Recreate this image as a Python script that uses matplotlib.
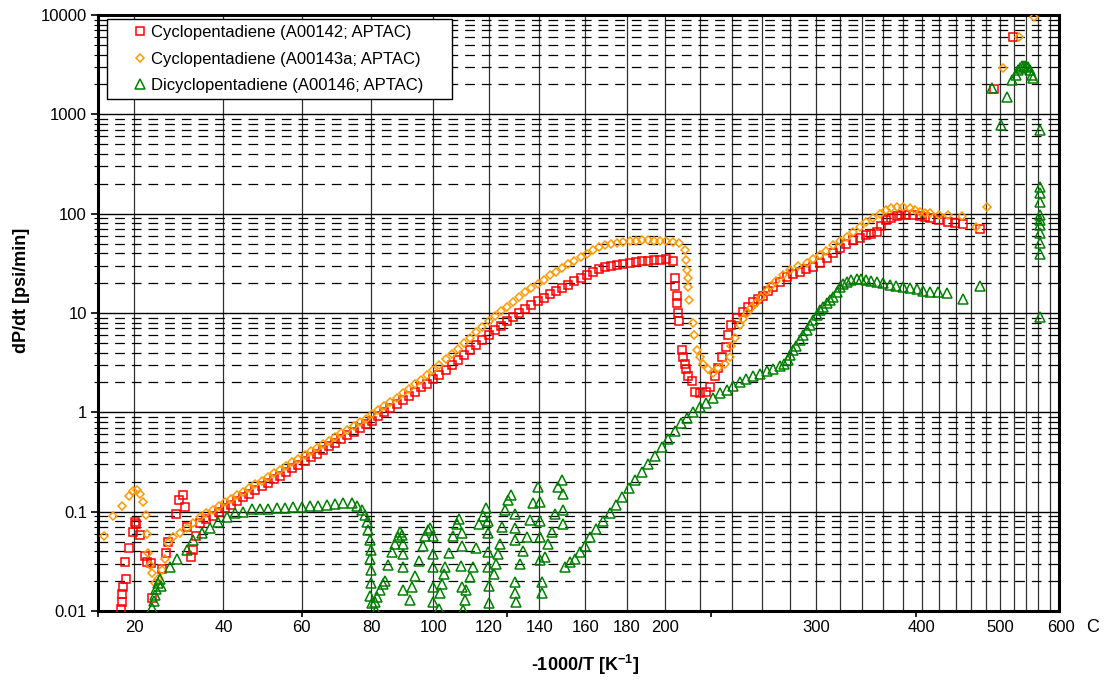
import matplotlib
matplotlib.use("Agg")
import matplotlib.pyplot as plt
from matplotlib.ticker import FixedLocator, LogLocator, NullFormatter, FuncFormatter

plt.rcParams['font.family'] = ['Liberation Sans', 'DejaVu Sans']
plt.rcParams['mathtext.fontset'] = 'custom'
plt.rcParams['mathtext.rm'] = 'Liberation Sans'
plt.rcParams['mathtext.bf'] = 'Liberation Sans:bold'
plt.rcParams['lines.scale_dashes'] = False

# x = -1000/T [1/K], y = dP/dt [psi/min]
labels = ["Cyclopentadiene (A00142; APTAC)",
          "Cyclopentadiene (A00143a; APTAC)",
          "Dicyclopentadiene (A00146; APTAC)"]

# shared x positions of the readings along the smooth part of both cyclopentadiene runs
curve_x = [-3.250, -3.235, -3.220, -3.205, -3.190, -3.175, -3.160, -3.145, -3.130, -3.115,
           -3.100, -3.085, -3.070, -3.055, -3.040, -3.025, -3.010, -2.995, -2.980, -2.965,
           -2.950, -2.935, -2.920, -2.905, -2.890, -2.875, -2.860, -2.845, -2.830, -2.815,
           -2.800, -2.785, -2.770, -2.755, -2.740, -2.725, -2.710, -2.695, -2.680, -2.665,
           -2.650, -2.635, -2.620, -2.605, -2.590, -2.575, -2.560, -2.545, -2.530, -2.515,
           -2.500, -2.485, -2.470, -2.455, -2.440, -2.425, -2.410, -2.395, -2.380, -2.365,
           -2.350, -2.335, -2.320, -2.305, -2.290, -2.275, -2.260, -2.245, -2.230, -2.215,
           -2.200, -2.185, -2.170, -2.155, -2.140, -2.125, -2.110, -2.095, -2.080]

# --- Cyclopentadiene A00142 (red)
red_early_x = [-3.4445, -3.442, -3.441, -3.438, -3.433, -3.432, -3.424, -3.415, -3.410, -3.407,
               -3.397, -3.385, -3.380, -3.371, -3.369, -3.344, -3.334, -3.328, -3.309, -3.301,
               -3.293, -3.287, -3.283, -3.273, -3.267, -3.260]
red_early_y = [0.0104, 0.0124, 0.0148, 0.0175, 0.0312, 0.0209, 0.0428, 0.0627, 0.078, 0.0748,
               0.058, 0.0356, 0.0312, 0.0305, 0.0135, 0.0264, 0.0382, 0.0497, 0.0944, 0.1306,
               0.1466, 0.1117, 0.0703, 0.0351, 0.041, 0.0567]
red_main_y = [0.077, 0.084, 0.091, 0.099, 0.108, 0.118, 0.128, 0.139, 0.152, 0.165,
              0.180, 0.195, 0.213, 0.231, 0.252, 0.274, 0.298, 0.325, 0.353, 0.384,
              0.418, 0.455, 0.495, 0.539, 0.586, 0.638, 0.694, 0.756, 0.82, 0.91,
              1.0, 1.10, 1.22, 1.34, 1.47, 1.62, 1.78, 1.95, 2.15, 2.40,
              2.68, 2.99, 3.34, 3.75, 4.22, 4.74, 5.34, 6.0, 6.67, 7.41,
              8.22, 9.12, 10.1, 11.0, 12.0, 13.1, 14.2, 15.5, 16.7, 17.9,
              19.3, 20.8, 22.3, 24.1, 25.9, 27.9, 28.9, 29.7, 30.5, 31.3,
              31.9, 32.6, 33.2, 33.5, 33.9, 34.3, 34.7, 33.1]
red_late_x = [-2.089, -2.088, -2.085, -2.083, -2.081, -2.080, -2.073, -2.069, -2.065, -2.062,
              -2.057, -2.048, -2.040, -2.028, -2.013, -2.004, -1.991, -1.983, -1.975, -1.965,
              -1.959, -1.951, -1.938, -1.922, -1.911, -1.898, -1.886, -1.873, -1.862, -1.849,
              -1.833, -1.816, -1.801, -1.784, -1.769, -1.751, -1.735, -1.718, -1.703, -1.686,
              -1.671, -1.653, -1.637, -1.621, -1.610, -1.596, -1.586, -1.572, -1.561, -1.547,
              -1.537, -1.523, -1.507, -1.490, -1.478, -1.466, -1.444, -1.421, -1.405, -1.384,
              -1.344, -1.309, -1.263]
red_late_y = [22.5, 18.8, 15, 12.5, 10, 8.4, 4.2, 3.6, 3.1, 2.7,
              2.3, 2.05, 1.6, 1.58, 1.6, 1.8, 2.3, 2.8, 3.6, 4.5,
              6.0, 7.6, 8.9, 10.2, 11.5, 12.8, 13.8, 15, 16.5, 18.3,
              20.5, 23, 24.5, 26, 27.5, 29, 32, 36, 40, 45,
              49, 54, 57, 61, 63, 66, 75, 87, 91, 95,
              96, 97, 96, 94, 92, 91, 87, 83, 81, 79,
              70, 1800, 6000]

# --- Cyclopentadiene A00143a (orange)
orange_early_x = [-3.485, -3.463, -3.442, -3.423, -3.414, -3.405, -3.397, -3.389, -3.383, -3.380,
                  -3.377, -3.373, -3.369, -3.361, -3.353, -3.344, -3.336, -3.328, -3.316, -3.300,
                  -3.283, -3.267]
orange_early_y = [0.0575, 0.091, 0.114, 0.143, 0.16, 0.165, 0.149, 0.124, 0.092, 0.06,
                  0.038, 0.029, 0.024, 0.019, 0.021, 0.026, 0.033, 0.048, 0.056, 0.061,
                  0.069, 0.077]
orange_main_y = [0.088, 0.096, 0.104, 0.114, 0.124, 0.135, 0.146, 0.159, 0.173, 0.189,
                 0.205, 0.223, 0.243, 0.265, 0.288, 0.313, 0.341, 0.371, 0.404, 0.439,
                 0.478, 0.520, 0.566, 0.616, 0.670, 0.729, 0.793, 0.863, 0.957, 1.05,
                 1.16, 1.27, 1.40, 1.55, 1.72, 1.92, 2.14, 2.38, 2.65, 3.01,
                 3.41, 3.86, 4.38, 4.98, 5.65, 6.41, 7.29, 8.26, 9.28, 10.4,
                 11.6, 13.0, 14.6, 16.1, 17.8, 19.7, 21.7, 23.9, 26.1, 28.4,
                 30.9, 33.7, 36.4, 39.4, 42.7, 46.2, 47.9, 49.3, 50.7, 51.7,
                 52.5, 53.2, 53.7, 53.7, 53.6, 53.5, 53.3, 52.1, 50.5]
orange_late_x = [-2.065, -2.061, -2.059, -2.058, -2.057, -2.054, -2.046, -2.042, -2.036, -2.028,
                 -2.020, -2.008, -1.996, -1.983, -1.967, -1.955, -1.951, -1.943, -1.930, -1.923,
                 -1.914, -1.903, -1.890, -1.879, -1.865, -1.855, -1.841, -1.825, -1.808, -1.789,
                 -1.767, -1.752, -1.735, -1.720, -1.702, -1.686, -1.669, -1.654, -1.637, -1.622,
                 -1.604, -1.588, -1.572, -1.561, -1.547, -1.532, -1.515, -1.502, -1.490, -1.478,
                 -1.466, -1.444, -1.421, -1.388, -1.352, -1.327, -1.288, -1.248, -1.212]
orange_late_y = [43, 34, 27, 22.5, 18.3, 13.5, 8, 6, 4.2, 3.6,
                 3.1, 2.7, 2.5, 2.8, 3.1, 3.6, 4.7, 5.6, 7.5, 8.7,
                 10, 11.3, 12.7, 14.5, 16.8, 18.8, 21, 24, 27, 29.5,
                 32, 35, 38, 42, 48, 53, 58, 65, 74, 82,
                 91, 100, 110, 114, 117, 116, 114, 108, 104, 102,
                 101, 98, 96, 94, 74, 117, 2920, 6050, 9600]

# --- Dicyclopentadiene A00146 (green)
green_early_x = [-3.368, -3.364, -3.361, -3.357, -3.353, -3.348, -3.345, -3.324, -3.306, -3.283,
                 -3.267, -3.246, -3.226, -3.206, -3.185, -3.165, -3.145, -3.124, -3.104, -3.084,
                 -3.063, -3.043, -3.023, -3.002, -2.982, -2.961, -2.941, -2.921, -2.900, -2.880,
                 -2.867, -2.855, -2.847, -2.843, -2.839, -2.835, -2.833, -2.834, -2.833, -2.832,
                 -2.835, -2.831]
green_early_y = [0.0106, 0.0125, 0.0145, 0.0165, 0.019, 0.021, 0.018, 0.028, 0.033, 0.041,
                 0.052, 0.061, 0.069, 0.079, 0.088, 0.097, 0.100, 0.106, 0.106, 0.107,
                 0.108, 0.110, 0.111, 0.112, 0.113, 0.115, 0.117, 0.120, 0.122, 0.121,
                 0.113, 0.104, 0.092, 0.079, 0.065, 0.052, 0.041, 0.033, 0.026, 0.019,
                 0.014, 0.012]
green_saw_x = [-2.819, -2.823, -2.817, -2.811, -2.804, -2.798, -2.790, -2.782, -2.774, -2.766,
               -2.762, -2.757, -2.754, -2.755, -2.753, -2.754, -2.737, -2.733, -2.725, -2.715,
               -2.705, -2.701, -2.692, -2.688, -2.680, -2.680, -2.681, -2.680, -2.682, -2.666,
               -2.664, -2.660, -2.654, -2.652, -2.642, -2.631, -2.623, -2.617, -2.611, -2.611,
               -2.612, -2.611, -2.608, -2.603, -2.599, -2.590, -2.584, -2.576, -2.568, -2.558,
               -2.550, -2.546, -2.546, -2.547, -2.546, -2.543, -2.543, -2.532, -2.527, -2.521,
               -2.517, -2.511, -2.505, -2.497, -2.489, -2.480, -2.480, -2.481, -2.480, -2.480,
               -2.478, -2.468, -2.460, -2.452, -2.444, -2.436, -2.424, -2.419, -2.419, -2.420,
               -2.419, -2.415, -2.415, -2.407, -2.399, -2.391, -2.383, -2.375, -2.366, -2.364,
               -2.364, -2.364]
green_saw_y = [0.0101, 0.0123, 0.0138, 0.0161, 0.0187, 0.0201, 0.029, 0.0389, 0.047, 0.055,
               0.0626, 0.058, 0.047, 0.0374, 0.0276, 0.0161, 0.0129, 0.0174, 0.0227, 0.032,
               0.045, 0.0566, 0.066, 0.0686, 0.0566, 0.0374, 0.0276, 0.0174, 0.0123, 0.0105,
               0.0151, 0.0187, 0.0236, 0.0276, 0.038, 0.0566, 0.0745, 0.0835, 0.0604, 0.0455,
               0.0287, 0.0174, 0.0103, 0.0129, 0.0161, 0.022, 0.0276, 0.043, 0.0745, 0.0909,
               0.1096, 0.081, 0.0604, 0.0389, 0.0276, 0.018, 0.0119, 0.0236, 0.0298, 0.0374,
               0.047, 0.07, 0.103, 0.13, 0.147, 0.0945, 0.0686, 0.052, 0.0194, 0.0151,
               0.0123, 0.0298, 0.0404, 0.055, 0.082, 0.121, 0.178, 0.126, 0.081, 0.055,
               0.0327, 0.0194, 0.0151, 0.0352, 0.047, 0.0626, 0.095, 0.178, 0.21, 0.150,
               0.103, 0.0745]
green_late_x = [-2.358, -2.346, -2.334, -2.322, -2.309, -2.297, -2.281, -2.265, -2.249, -2.234,
                -2.218, -2.202, -2.186, -2.170, -2.154, -2.138, -2.122, -2.106, -2.090, -2.075,
                -2.060, -2.045, -2.028, -2.013, -1.996, -1.979, -1.963, -1.947, -1.930, -1.916,
                -1.899, -1.881, -1.865, -1.850, -1.833, -1.823, -1.813, -1.807, -1.801, -1.792,
                -1.784, -1.776, -1.767, -1.759, -1.752, -1.743, -1.735, -1.727, -1.718, -1.710,
                -1.703, -1.694, -1.686, -1.679, -1.669, -1.659, -1.645, -1.635, -1.621, -1.610,
                -1.596, -1.581, -1.564, -1.549, -1.532, -1.515, -1.498, -1.483, -1.466, -1.446,
                -1.425, -1.385, -1.344]
green_late_y = [0.0276, 0.031, 0.0336, 0.0389, 0.0455, 0.055, 0.0665, 0.0804, 0.097, 0.117,
                0.142, 0.172, 0.208, 0.251, 0.304, 0.367, 0.444, 0.537, 0.65, 0.785,
                0.87, 1.0, 1.13, 1.25, 1.4, 1.55, 1.67, 1.83, 2.0, 2.15,
                2.33, 2.45, 2.6, 2.75, 2.9, 3.1, 3.4, 3.8, 4.2, 4.7,
                5.3, 6.0, 6.7, 7.6, 8.5, 9.6, 10.7, 11.6, 12.6, 13.5,
                14.5, 16.2, 18.3, 19.5, 20.5, 21.5, 22, 22, 21.5, 21,
                20.5, 20, 19.2, 18.8, 18.3, 17.8, 17.4, 16.8, 16.3, 16.1,
                15.9, 13.7, 18.8]
green_top_x = [-1.313, -1.291, -1.278, -1.266, -1.256, -1.251, -1.246, -1.241, -1.236, -1.231,
               -1.226, -1.221, -1.216, -1.214, -1.197, -1.197, -1.197, -1.197, -1.197, -1.197,
               -1.197, -1.197, -1.197, -1.197, -1.197]
green_top_y = [1830, 780, 1500, 2220, 2500, 2800, 2950, 3050, 3100, 3100,
               3000, 2800, 2500, 2300, 700, 185, 161, 132, 96, 86,
               77, 64, 51, 39, 9.2]

red_x = red_early_x + curve_x[:78] + red_late_x
red_y = red_early_y + red_main_y + red_late_y
orange_x = orange_early_x + curve_x + orange_late_x
orange_y = orange_early_y + orange_main_y + orange_late_y
green_x = green_early_x + green_saw_x + green_late_x + green_top_x
green_y = green_early_y + green_saw_y + green_late_y + green_top_y

# temperature scale (deg C) drawn on the -1000/T axis
grid_temps = list(range(20, 600, 20))
label_temps = [20, 40, 60, 80, 100, 120, 140, 160, 180, 200, 300, 400, 500, 600]


def inv_t(t):
    return -1000.0 / (t + 273.15)


fig = plt.figure(figsize=(11.04, 6.8), dpi=100)
ax = fig.add_axes([98 / 1104, 1 - 611 / 680, 961 / 1104, 596 / 680])

ax.set_yscale('log')
ax.set_ylim(0.01, 10000)
ax.set_xlim(-3.5, -1.15)

# grid: solid decades, dashed minors, verticals every 20 C
ax.yaxis.set_major_locator(FixedLocator([0.01, 0.1, 1, 10, 100, 1000, 10000]))
ax.yaxis.set_major_formatter(FuncFormatter(lambda v, p: '%g' % v))
ax.yaxis.set_minor_locator(LogLocator(base=10, subs=range(2, 10)))
ax.yaxis.set_minor_formatter(NullFormatter())
ax.grid(which='major', axis='y', color='black', lw=1.0, ls='-', zorder=0)
ax.grid(which='minor', axis='y', color='black', lw=0.9, ls=(0, (7, 5)), zorder=0)
for t in grid_temps:
    ax.axvline(inv_t(t), color='#303030', lw=0.9, zorder=0.5)
ax.set_axisbelow(True)

ax.set_xticks([-3.5, -3.0, -2.5, -2.0, -1.5])
ax.set_xticklabels([])
ax.tick_params(axis='x', direction='out', length=4, width=1.2)
ax.tick_params(axis='y', which='major', direction='out', length=5, width=1.2, labelsize=12, pad=3)
ax.tick_params(axis='y', which='minor', direction='out', length=3, width=0.8)

for s in ax.spines.values():
    s.set_linewidth(2.2)
    s.set_color('black')

ax.plot(red_x, red_y, ls='none', marker='s', ms=6.4, mfc='none', mec='#FF0000', mew=1.1,
        label=labels[0], zorder=3)
ax.plot(orange_x, orange_y, ls='none', marker='D', ms=4.4, mfc='none', mec='#FF9900', mew=1.1,
        label=labels[1], zorder=4)
ax.plot(green_x, green_y, ls='none', marker='^', ms=7.0, mfc='none', mec='#008000', mew=1.1,
        label=labels[2], zorder=5)

# temperature labels under the axis
for t in label_temps:
    ax.text(inv_t(t), -0.027, str(t), transform=ax.get_xaxis_transform(),
            ha='center', va='center', fontsize=12, clip_on=False)
fig.text(1093 / 1104, 1 - 627 / 680, 'C', ha='center', va='center', fontsize=13)

leg = ax.legend(loc='upper left', bbox_to_anchor=(0.009, 0.893, 0.359, 0.1), mode='expand',
                borderaxespad=0, fontsize=12, fancybox=False, edgecolor='black',
                framealpha=1, borderpad=0.35, labelspacing=0.69, handlelength=3.3,
                handletextpad=-0.97, numpoints=1)
leg.get_frame().set_linewidth(1.0)
leg.set_zorder(10)

fig.text(22 / 1104, 1 - 290 / 680, 'dP/dt [psi/min]', rotation=90, ha='center', va='center',
         fontsize=13, fontweight='bold')
fig.text(585 / 1104, 1 - 665 / 680, r'-1000/T [K$^{\mathbf{-1}}$]', ha='center', va='center',
         fontsize=13, fontweight='bold')

fig.savefig('out.png', dpi=100)
